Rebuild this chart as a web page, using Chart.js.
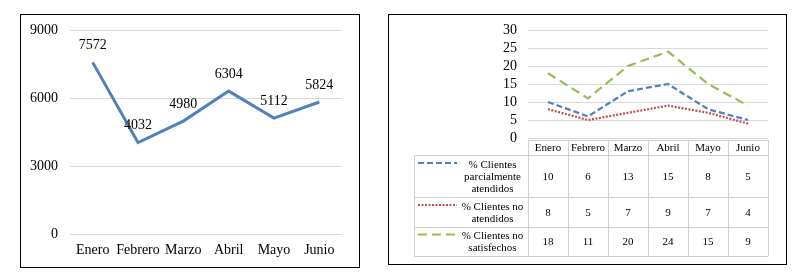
<!DOCTYPE html>
<html>
<head>
<meta charset="utf-8">
<script src="https://cdn.jsdelivr.net/npm/chart.js@4"></script>
<style>
  body { margin: 0; background: #fff; width: 807px; height: 272px; position: relative; overflow: hidden; }
  .box { position: absolute; box-sizing: border-box; border: 1px solid #000; background: #fff; }
  #boxA { left: 20px; top: 14px; width: 340px; height: 254px; }
  #boxB { left: 388px; top: 14px; width: 399px; height: 251px; }
  canvas { display: block; }
</style>
</head>
<body>
<div class="box" id="boxA"><canvas id="ventas" width="338" height="252"></canvas></div>
<div class="box" id="boxB"><canvas id="clientes" width="397" height="249"></canvas></div>
<script>
const meses = ['Enero', 'Febrero', 'Marzo', 'Abril', 'Mayo', 'Junio'];
const ventas = [7572, 4032, 4980, 6304, 5112, 5824];
const ventasTicks = [0, 3000, 6000, 9000];

const seriesNames = ['% Clientes parcialmente atendidos', '% Clientes no atendidos', '% Clientes no satisfechos'];
const parciales = [10, 6, 13, 15, 8, 5];
const noAtendidos = [8, 5, 7, 9, 7, 4];
const noSatisfechos = [18, 11, 20, 24, 15, 9];
const clientesTicks = [0, 5, 10, 15, 20, 25, 30];

const SERIF = "'Liberation Serif', 'Times New Roman', serif";
const GRID = '#d9d9d9';

// etiquetas de valor encima de cada punto
const valueLabels = {
  id: 'valueLabels',
  afterDatasetsDraw(chart) {
    const ctx = chart.ctx;
    const meta = chart.getDatasetMeta(0);
    ctx.save();
    ctx.font = '14px ' + SERIF;
    ctx.fillStyle = '#000';
    ctx.textAlign = 'center';
    ctx.textBaseline = 'middle';
    meta.data.forEach((pt, i) => {
      ctx.fillText(String(chart.data.datasets[0].data[i]), pt.x, pt.y - 17);
    });
    ctx.restore();
  }
};

new Chart(document.getElementById('ventas'), {
  type: 'line',
  data: {
    labels: meses,
    datasets: [{
      data: ventas,
      borderColor: '#4f81bd',
      borderWidth: 3,
      pointRadius: 0,
      tension: 0
    }]
  },
  options: {
    responsive: false,
    animation: false,
    layout: { padding: { top: 15, right: 17, bottom: 9, left: 0 } },
    plugins: { legend: { display: false }, tooltip: { enabled: false } },
    scales: {
      x: {
        offset: true,
        grid: { display: false, drawTicks: false },
        border: { display: false },
        ticks: { color: '#000', font: { family: SERIF, size: 14 }, padding: 8, maxRotation: 0, autoSkip: false },
        afterFit: s => { s.height = 24; }
      },
      y: {
        min: 0,
        max: 9000,
        afterBuildTicks: s => { s.ticks = ventasTicks.map(v => ({ value: v })); },
        grid: { color: GRID, drawTicks: false },
        border: { display: false },
        ticks: { color: '#000', font: { family: SERIF, size: 14 }, padding: 12, autoSkip: false, callback: v => String(v) },
        afterFit: s => { s.width = 49; s.paddingTop = 0; s.paddingBottom = 0; }
      }
    }
  },
  plugins: [valueLabels]
});

// tabla de datos bajo el gráfico (estilo Excel)
const dataTable = {
  id: 'dataTable',
  afterDraw(chart) {
    const ctx = chart.ctx;
    const x = chart.scales.x;
    const colW = (x.right - x.left) / meses.length;
    const left = 25, lineX0 = 29, lineX1 = 68;
    const headTop = 125, headBottom = 140;
    const rowBottoms = [182, 212, 241];
    ctx.save();
    ctx.strokeStyle = '#d0d0d0';
    ctx.lineWidth = 1;
    const hline = (y, x0, x1) => { ctx.beginPath(); ctx.moveTo(x0, y + 0.5); ctx.lineTo(x1, y + 0.5); ctx.stroke(); };
    const vline = (xx, y0, y1) => { ctx.beginPath(); ctx.moveTo(Math.round(xx) + 0.5, y0); ctx.lineTo(Math.round(xx) + 0.5, y1); ctx.stroke(); };
    hline(headTop, x.left, x.right);
    hline(headBottom, left, x.right);
    rowBottoms.forEach(y => hline(y, left, x.right));
    vline(left, headBottom, rowBottoms[2]);
    for (let i = 0; i <= meses.length; i++) vline(x.left + i * colW, headTop, rowBottoms[2]);

    ctx.fillStyle = '#000';
    ctx.textAlign = 'center';
    ctx.textBaseline = 'middle';
    ctx.font = '11px ' + SERIF;
    meses.forEach((m, i) => ctx.fillText(m, x.getPixelForValue(i), (headTop + headBottom) / 2 + 1));

    const tops = [headBottom, rowBottoms[0], rowBottoms[1]];
    chart.data.datasets.forEach((ds, r) => {
      const yc = (tops[r] + rowBottoms[r]) / 2;
      ds.data.forEach((v, i) => ctx.fillText(String(v), x.getPixelForValue(i), yc + 1));
      // texto de la serie, partido en líneas
      const words = ds.label.split(' ');
      const lines = [];
      let cur = '';
      words.forEach(w => {
        const t = cur ? cur + ' ' + w : w;
        if (ctx.measureText(t).width > 66 && cur) { lines.push(cur); cur = w; } else cur = t;
      });
      lines.push(cur);
      const lh = 12;
      const y0 = yc - (lines.length - 1) * lh / 2;
      const tx = (lineX1 + x.left) / 2;
      lines.forEach((l, k) => ctx.fillText(l, tx, y0 + k * lh + 1));
      // muestra de línea
      ctx.save();
      ctx.strokeStyle = ds.borderColor;
      ctx.lineWidth = 2;
      ctx.setLineDash(ds.borderDash);
      ctx.beginPath();
      ctx.moveTo(lineX0, y0 - 1);
      ctx.lineTo(lineX1, y0 - 1);
      ctx.stroke();
      ctx.restore();
    });
    ctx.restore();
  }
};

new Chart(document.getElementById('clientes'), {
  type: 'line',
  data: {
    labels: meses,
    datasets: [
      { label: seriesNames[0], data: parciales, borderColor: '#4f81bd', borderDash: [6, 3] },
      { label: seriesNames[1], data: noAtendidos, borderColor: '#c0504d', borderDash: [2, 1.5] },
      { label: seriesNames[2], data: noSatisfechos, borderColor: '#9bbb59', borderDash: [9, 5] }
    ].map(d => Object.assign(d, { borderWidth: 2.25, pointRadius: 0, tension: 0 }))
  },
  options: {
    responsive: false,
    animation: false,
    layout: { padding: { top: 15, right: 18, bottom: 126, left: 0 } },
    plugins: { legend: { display: false }, tooltip: { enabled: false } },
    scales: {
      x: { display: false, offset: true },
      y: {
        min: 0,
        max: 30,
        afterBuildTicks: s => { s.ticks = clientesTicks.map(v => ({ value: v })); },
        grid: { color: GRID, drawTicks: false },
        border: { display: false },
        ticks: { color: '#000', font: { family: SERIF, size: 14 }, padding: 11, autoSkip: false, callback: v => String(v) },
        afterFit: s => { s.width = 139; s.paddingTop = 0; s.paddingBottom = 0; }
      }
    }
  },
  plugins: [dataTable]
});
</script>
</body>
</html>
